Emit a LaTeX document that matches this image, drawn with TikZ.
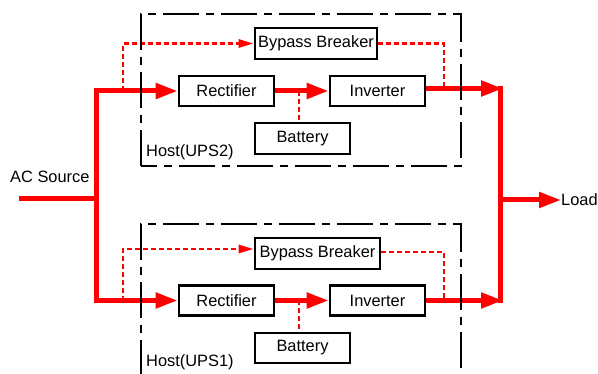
\documentclass[tikz,border=0pt]{standalone}
\usepackage{fontspec}
\setmainfont{Liberation Sans}
\usetikzlibrary{arrows.meta}
\begin{document}
\begin{tikzpicture}[x=1pt,y=-1pt,
  font=\fontsize{16.4}{19}\selectfont,
  unit/.style={draw=black, line width=2.7pt, inner sep=0pt, fill=white},
  power/.style={draw=red, line width=5pt, line join=miter},
  powerarrow/.style={power, -{Triangle[length=22pt,width=15pt]}},
  bypass/.style={draw=red, line width=2.8pt, dash pattern=on 5pt off 3pt},
  bypassarrow/.style={bypass, -{Triangle[length=15pt,width=8pt]}},
  hostbox/.style={draw=black, line width=1.2pt, dash pattern=on 36pt off 7pt on 8pt off 7pt},
  lbl/.style={anchor=west, inner sep=0pt}
]
\useasboundingbox (0,0) rectangle (598,374);

% ---------- UPS2 (upper) ----------
\node[unit, minimum width=122pt, minimum height=31pt] (bb2) at (316,43.5) {Bypass Breaker};
\node[unit, minimum width=95pt, minimum height=30pt] (rec2) at (226.5,91) {Rectifier};
\node[unit, minimum width=95pt, minimum height=30pt] (inv2) at (377.5,91) {Inverter};
\node[unit, minimum width=95pt, minimum height=31pt] (bat2) at (302.5,138.5) {Battery};
\node[lbl] (host2) at (146,152) {Host(UPS2)};

% ---------- UPS1 (lower) ----------
\node[unit, minimum width=125pt, minimum height=31pt] (bb1) at (317.5,253.5) {Bypass Breaker};
\node[unit, minimum width=95pt, minimum height=30pt] (rec1) at (226.5,300.5) {Rectifier};
\node[unit, minimum width=95pt, minimum height=30pt] (inv1) at (377.5,300.5) {Inverter};
\node[unit, minimum width=95pt, minimum height=30pt] (bat1) at (302.5,348) {Battery};
\node[lbl] (host1) at (146,362) {Host(UPS1)};

% ---------- source / load ----------
\node[lbl] (ac) at (10,177) {AC Source};
\node[lbl] (load) at (561,200) {Load};

\coordinate (acin) at (19,199);
\coordinate (split) at (96,199);
\coordinate (d2) at (123,91);
\coordinate (d1) at (123,301);
\coordinate (j2) at (299,91);
\coordinate (j1) at (299,300.5);
\coordinate (o2) at (444,88.5);
\coordinate (o1) at (444,300.5);
\coordinate (bus) at (500,200);
\coordinate (bustop) at (500,88.5);
\coordinate (busbot) at (500,300.5);

% ---------- dashed bypass paths (drawn first) ----------
\draw[bypassarrow] (d2) |- (bb2.west);
\draw[bypass] (bb2.east) -| (o2);
\draw[bypass] (j2) -- (j2 |- bat2.north);
\draw[bypassarrow] (d1) |- ([yshift=4.5pt]bb1.west);
\draw[bypass] ([yshift=1.5pt]bb1.east) -| (o1);
\draw[bypass] (j1) -- (j1 |- bat1.north);

% ---------- main power paths ----------
\draw[power] (acin) -- (split);
\draw[powerarrow] (split) |- (rec2.west);
\draw[powerarrow] (split) |- (rec1.west);
\draw[powerarrow] (rec2.east) -- (inv2.west);
\draw[powerarrow] (rec1.east) -- (inv1.west);
\draw[powerarrow] ([yshift=2.5pt]inv2.east) -- ([xshift=3pt]bustop);
\draw[powerarrow] (inv1.east) -- ([xshift=3pt]busbot);
\draw[power] ([yshift=2.5pt]bustop) -- ([yshift=-2.5pt]busbot);
\draw[powerarrow] (bus) -- (load.west);

% ---------- host boxes (dash-dot, on top) ----------
\draw[hostbox] (141,166) rectangle (461,14);
\draw[hostbox] (141,376) -- (141,224) -- (461,224) -- (461,376);
\end{tikzpicture}
\end{document}
